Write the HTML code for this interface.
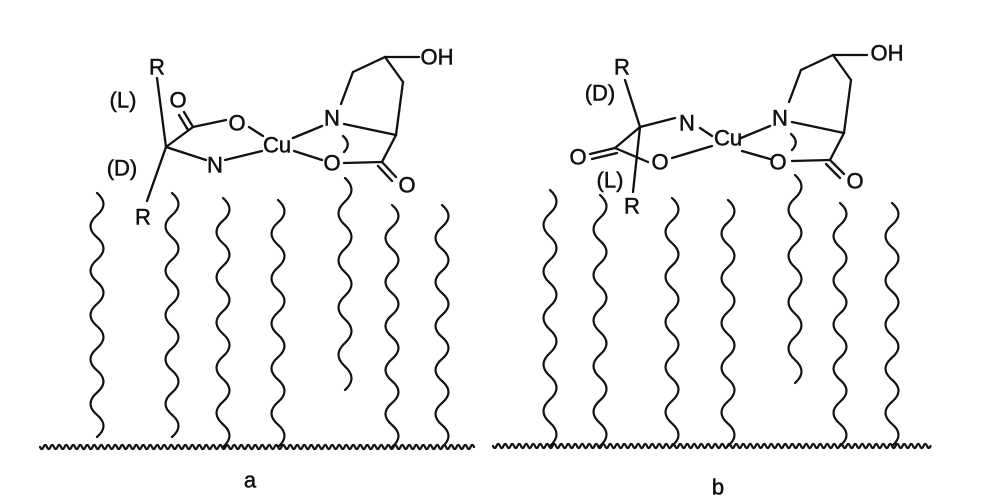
<!DOCTYPE html>
<html><head><meta charset="utf-8"><style>
html,body{margin:0;padding:0;background:#fff;}
svg{display:block}
text{font-family:"Liberation Sans",sans-serif;font-size:22px;fill:#111;text-anchor:middle;dominant-baseline:central;stroke:#111;stroke-width:0.5;}
</style></head><body>
<svg id="s" width="1002" height="504" viewBox="0 0 1002 504" xmlns="http://www.w3.org/2000/svg">
<g stroke="#111" stroke-width="2.3" fill="none" stroke-linecap="round">
<line x1="157" y1="78" x2="166" y2="147"/>
<line x1="166" y1="147" x2="147" y2="201"/>
<line x1="166" y1="147" x2="193" y2="127"/>
<line x1="193" y1="127" x2="184" y2="112"/>
<line x1="188" y1="130" x2="179" y2="115"/>
<line x1="193" y1="127" x2="226" y2="120"/>
<line x1="249" y1="127" x2="263" y2="136"/>
<line x1="166" y1="147" x2="206" y2="160"/>
<line x1="225" y1="160" x2="262" y2="151"/>
<line x1="293" y1="138" x2="322" y2="126"/>
<line x1="294" y1="151" x2="322" y2="160"/>
<line x1="341" y1="104" x2="353" y2="72"/>
<line x1="353" y1="72" x2="385" y2="57"/>
<line x1="385" y1="57" x2="419" y2="57"/>
<line x1="385" y1="57" x2="403" y2="82"/>
<line x1="403" y1="82" x2="396" y2="135"/>
<line x1="344" y1="124" x2="396" y2="135"/>
<line x1="396" y1="135" x2="382" y2="162"/>
<line x1="344" y1="163" x2="382" y2="162"/>
<line x1="382" y1="162" x2="396" y2="177"/>
<line x1="378" y1="166" x2="392" y2="181"/>
<path d="M343 136 Q352 144 344 152"/>
<line x1="625" y1="80" x2="640" y2="127"/>
<line x1="640" y1="127" x2="675" y2="118"/>
<line x1="700" y1="128" x2="712" y2="136"/>
<line x1="640" y1="127" x2="615" y2="148"/>
<line x1="615" y1="148" x2="590" y2="154"/>
<line x1="617" y1="153" x2="592" y2="159"/>
<line x1="615" y1="148" x2="648" y2="162"/>
<line x1="672" y1="158" x2="712" y2="146"/>
<line x1="640" y1="127" x2="633" y2="192"/>
<line x1="741" y1="138" x2="770" y2="126"/>
<line x1="742" y1="151" x2="770" y2="159"/>
<line x1="789" y1="102" x2="801" y2="70"/>
<line x1="801" y1="70" x2="833" y2="55"/>
<line x1="833" y1="55" x2="867" y2="55"/>
<line x1="833" y1="55" x2="851" y2="80"/>
<line x1="851" y1="80" x2="844" y2="133"/>
<line x1="792" y1="122" x2="844" y2="133"/>
<line x1="844" y1="133" x2="830" y2="160"/>
<line x1="792" y1="161" x2="830" y2="160"/>
<line x1="830" y1="160" x2="844" y2="174"/>
<line x1="826" y1="164" x2="840" y2="178"/>
<path d="M791 134 Q800 142 792 150"/>
<path id="waves" stroke-width="2.2"/>
</g>
<text x="157" y="67">R</text>
<text x="123" y="100">(L)</text>
<text x="178" y="100">O</text>
<text x="237" y="123">O</text>
<text x="277" y="145">Cu</text>
<text x="215" y="165">N</text>
<text x="122" y="168">(D)</text>
<text x="143" y="217">R</text>
<text x="332" y="118">N</text>
<text x="332" y="163">O</text>
<text x="437" y="57">OH</text>
<text x="407" y="185">O</text>
<text x="250" y="480">a</text>
<text x="622" y="67">R</text>
<text x="600" y="93">(D)</text>
<text x="687" y="123">N</text>
<text x="728" y="138">Cu</text>
<text x="578" y="157">O</text>
<text x="660" y="162">O</text>
<text x="610" y="180">(L)</text>
<text x="632" y="206">R</text>
<text x="780" y="118">N</text>
<text x="778" y="162">O</text>
<text x="887" y="53">OH</text>
<text x="855" y="181">O</text>
<text x="718" y="487">b</text>
</svg>
<script>
var d="";
function chain(x,y0,y1){var n=Math.round((y1-y0)/23),h=(y1-y0)/n,a=6.5,s=1,y=y0;d+="M"+x+" "+y;
for(var i=0;i<n;i++){d+=" Q"+(x+s*2*a)+" "+(y+h/2)+" "+x+" "+(y+h);y+=h;s=-s;}}
function base(x0,x1,y){var p=3.5,s=1,x=x0;d+="M"+x+" "+y;
while(x+p<=x1){d+=" Q"+(x+p/2)+" "+(y+s*4)+" "+(x+p)+" "+y;x+=p;s=-s;}}
[[97,193,437],[172,193,437],[223,198,447],[278,200,447],[345,178,390],[392,205,447],[442,205,447]].forEach(function(c){chain(c[0],c[1],c[2]);});
[[550,190,446],[600,195,446],[672,198,446],[728,200,446],[795,175,383],[840,203,446],[892,203,446]].forEach(function(c){chain(c[0],c[1],c[2]);});
base(40,477,447);base(493,932,446);
document.getElementById("waves").setAttribute("d",d);
</script>
</body></html>
